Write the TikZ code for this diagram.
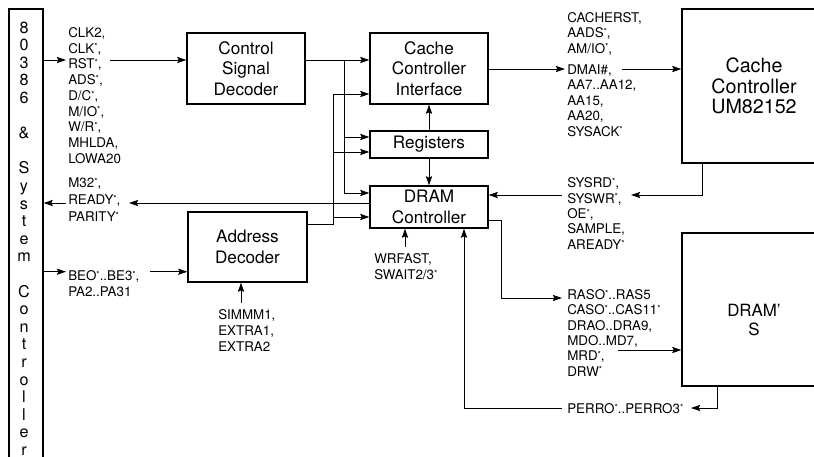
\documentclass[tikz,border=0pt]{standalone}
\usepackage{fontspec}
\setmainfont{TeX Gyre Heros}
\usetikzlibrary{arrows.meta}
\newcommand{\nb}{\raisebox{2.3pt}{\fontsize{6}{6}\selectfont *}}
\tikzset{
  blk/.style={draw, line width=0.9pt, align=center, inner sep=0pt,
    font=\fontsize{12.2}{14.5}\selectfont},
  sig/.style={anchor=north west, align=left, inner sep=0pt,
    font=\fontsize{9.5}{11.2}\selectfont},
  wire/.style={line width=0.7pt},
  arr/.style={wire, -{Stealth[length=6.5pt, width=4.4pt, inset=1pt]}},
}
\begin{document}
\begin{tikzpicture}[x=0.025cm, y=-0.025cm]
  \useasboundingbox (0,0) rectangle (814,456);
  \clip (0,0) rectangle (814,456);

  \node[draw, line width=0.9pt, minimum width=0.85cm, minimum height=11.525cm, inner sep=0pt] (sysc) at (26,239.5) {};
  \foreach \i/\c in {0/8,1/0,2/3,3/8,4/6,6/\&,8/S,9/y,10/s,11/t,12/e,13/m,15/C,16/o,17/n,18/t,19/r,20/o,21/l,22/l,23/e,24/r}
    \node[anchor=base, inner sep=0pt, font=\fontsize{11.5}{12}\selectfont] (v\i) at (24, 33+17.6*\i) {\c};

  \node[blk, minimum width=2.95cm, minimum height=1.775cm] (csd) at (246,68.5) {Control\\Signal\\Decoder};
  \node[blk, minimum width=2.95cm, minimum height=1.775cm] (cci) at (429,68.5) {Cache\\Controller\\Interface};
  \node[blk, minimum width=2.95cm, minimum height=0.675cm] (reg) at (429,144.5) {Registers};
  \node[blk, minimum width=2.95cm, minimum height=1.05cm] (dramc) at (429,207) {DRAM\\Controller};
  \node[blk, minimum width=2.975cm, minimum height=1.75cm] (addr) at (247.5,247) {Address\\Decoder};
  \node[blk, minimum width=3.6cm, minimum height=3.85cm, font=\fontsize{14}{14.5}\selectfont] (cc) at (754,86) {Cache\\Controller\\UM82152};
  \node[blk, minimum width=3.6cm, minimum height=3.825cm] (dram) at (754,309.5) {};
  \node[align=center, inner sep=0pt, font=\fontsize{12}{14.2}\selectfont] (dramtxt) at (754,320) {DRAM'\\S};

  \node[sig] (ctlsig) at (68,27) {CLK2,\\CLK\nb,\\RST\nb,\\ADS\nb,\\D/C\nb,\\M/IO\nb,\\W/R\nb,\\MHLDA,\\LOWA20};
  \node[sig, font=\fontsize{9.5}{12}\selectfont] (retsig) at (68,177.8) {M32\nb,\\READY\nb,\\PARITY\nb};
  \node[sig] (addrsig) at (68,270.3) {BEO\nb..BE3\nb,\\PA2..PA31};
  \node[sig, font=\fontsize{9.5}{11}\selectfont] (cachesig) at (567,12) {CACHERST,\\AADS\nb,\\AM/IO\nb,\\[4pt]DMAI\#,\\AA7..AA12,\\AA15,\\AA20,\\SYSACK\nb};
  \node[sig, font=\fontsize{9.5}{11}\selectfont] (syssig) at (567,177.3) {SYSRD\nb,\\SYSWR\nb,\\OE\nb,\\SAMPLE,\\AREADY\nb};
  \node[sig, font=\fontsize{9.5}{10.9}\selectfont] (dramsig) at (567,289.3) {RASO\nb..RAS5\\CASO\nb..CAS11\nb\\DRAO..DRA9,\\MDO..MD7,\\MRD\nb,\\DRW\nb};
  \node[sig] (perrsig) at (567,403.3) {PERRO\nb..PERRO3\nb};
  \node[sig] (waitsig) at (374,253.6) {WRFAST,\\SWAIT2/3\nb};
  \node[sig] (simmsig) at (218,309.6) {SIMMM1,\\EXTRA1,\\EXTRA2};

  \coordinate (rstin) at (66,60);
  \coordinate (rstout) at (110,60);
  \coordinate (ja) at (344,60);
  \coordinate (ja1) at (344,137);
  \coordinate (ja2) at (344,193);
  \coordinate (jb0) at (333,224);
  \coordinate (jb) at (333,94);
  \coordinate (jb1) at (333,152);
  \coordinate (jb2) at (333,217);
  \coordinate (rdyin) at (129,203);
  \coordinate (rdyout) at (66,203);
  \coordinate (bein) at (66,271.7);
  \coordinate (beout) at (150,271.7);
  \coordinate (dmain) at (565,69);
  \coordinate (dmaout) at (622,69);
  \coordinate (sysbend) at (702,195);
  \coordinate (sysin) at (631,195);
  \coordinate (sysout) at (562,195);
  \coordinate (rasup) at (501,220);
  \coordinate (rasbend) at (501,298);
  \coordinate (rasin) at (562,298);
  \coordinate (mdout) at (618,350);
  \coordinate (perbend) at (717,408);
  \coordinate (perin) at (691,408);
  \coordinate (perout) at (562,408);
  \coordinate (perup) at (464,408);
  \coordinate (wrup) at (405,247);
  \coordinate (simup) at (241,303);

  \draw[arr] (sysc.east |- rstin) -- (rstin);
  \draw[arr] (rstout) -- (rstout -| csd.west);
  \draw[arr] (csd.east |- ja) -- (cci.west |- ja);
  \draw[wire] (ja) -- (ja2);
  \draw[arr] (ja1) -- (ja1 -| reg.west);
  \draw[arr] (ja2) -- (ja2 -| dramc.west);
  \draw[wire] (addr.east |- jb0) -- (jb0) -- (jb);
  \draw[arr] (jb) -- (jb -| cci.west);
  \draw[arr] (jb1) -- (jb1 -| reg.west);
  \draw[arr] (jb2) -- (jb2 -| dramc.west);
  \draw[arr] (dramc.west |- rdyin) -- (rdyin);
  \draw[arr] (rdyout) -- (sysc.east |- rdyout);
  \draw[arr] (sysc.east |- bein) -- (bein);
  \draw[arr] (beout) -- (beout -| addr.west);
  \draw[arr] (reg.north) -- (cci.south);
  \draw[arr] (reg.south) -- (dramc.north);
  \draw[arr] (cci.east |- dmain) -- (dmain);
  \draw[arr] (dmaout) -- (dmaout -| cc.west);
  \draw[arr] (cc.south -| sysbend) -- (sysbend) -- (sysin);
  \draw[arr] (sysout) -- (sysout -| dramc.east);
  \draw[arr] (dramc.east |- rasup) -- (rasup) -- (rasbend) -- (rasin);
  \draw[arr] (mdout) -- (mdout -| dram.west);
  \draw[arr] (dram.south -| perbend) -- (perbend) -- (perin);
  \draw[arr] (perout) -- (perup) -- (perup |- dramc.south);
  \draw[arr] (wrup) -- (wrup |- dramc.south);
  \draw[arr] (simup) -- (simup |- addr.south);
\end{tikzpicture}
\end{document}
